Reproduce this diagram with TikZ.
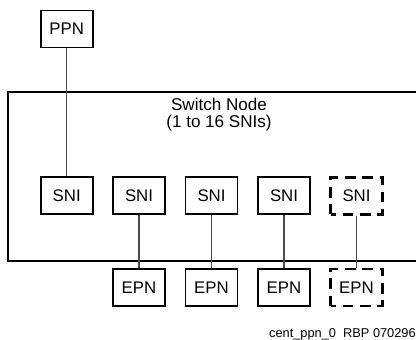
\documentclass[tikz,border=0pt]{standalone}
\usepackage{fontspec}
\setmainfont{Liberation Sans}

\begin{document}
\begin{tikzpicture}[x=0.75pt,y=-0.75pt]
\tikzstyle{box}=[rectangle,draw,line width=1.3pt,minimum width=39pt,minimum height=27.75pt,inner sep=0pt,font=\fontsize{12.6}{15}\selectfont]
\tikzstyle{spare}=[box,line width=1.8pt,dash pattern=on 8pt off 5pt,dash phase=4pt]
\tikzstyle{link}=[draw=black!70,line width=0.8pt]
\useasboundingbox (0,0) rectangle (416,339);
% switch node frame, open to the right
\draw[line width=1.4pt] (440,92) -| (8,261) -- (440,261);
\node[inner sep=0pt,anchor=north,align=center,font=\fontsize{12.8}{12.3}\selectfont] (swlabel) at (219,98) {Switch Node\\(1 to 16 SNIs)};
\node[box] (ppn) at (66.7,29) {PPN};
\node[box] (sni1) at (66.7,195.8) {SNI};
\node[box] (sni2) at (139,195.8) {SNI};
\node[box] (sni3) at (211.5,195.8) {SNI};
\node[box] (sni4) at (284,195.8) {SNI};
\node[spare] (sni5) at (356.5,195.8) {SNI};
\node[box] (epn2) at (139,287.3) {EPN};
\node[box] (epn3) at (211.5,287.3) {EPN};
\node[box] (epn4) at (284,287.3) {EPN};
\node[spare] (epn5) at (356.5,287.3) {EPN};
\draw[link] (ppn) -- (sni1);
\draw[link] (sni2) -- (epn2);
\draw[link] (sni3) -- (epn3);
\draw[link] (sni4) -- (epn4);
\draw[link] (sni5) -- (epn5);
\node[inner sep=0pt,anchor=base east,font=\fontsize{9.6}{10}\selectfont] (tag) at (416,337) {cent\_ppn\_0\ \ RBP 070296};
\end{tikzpicture}
\end{document}
